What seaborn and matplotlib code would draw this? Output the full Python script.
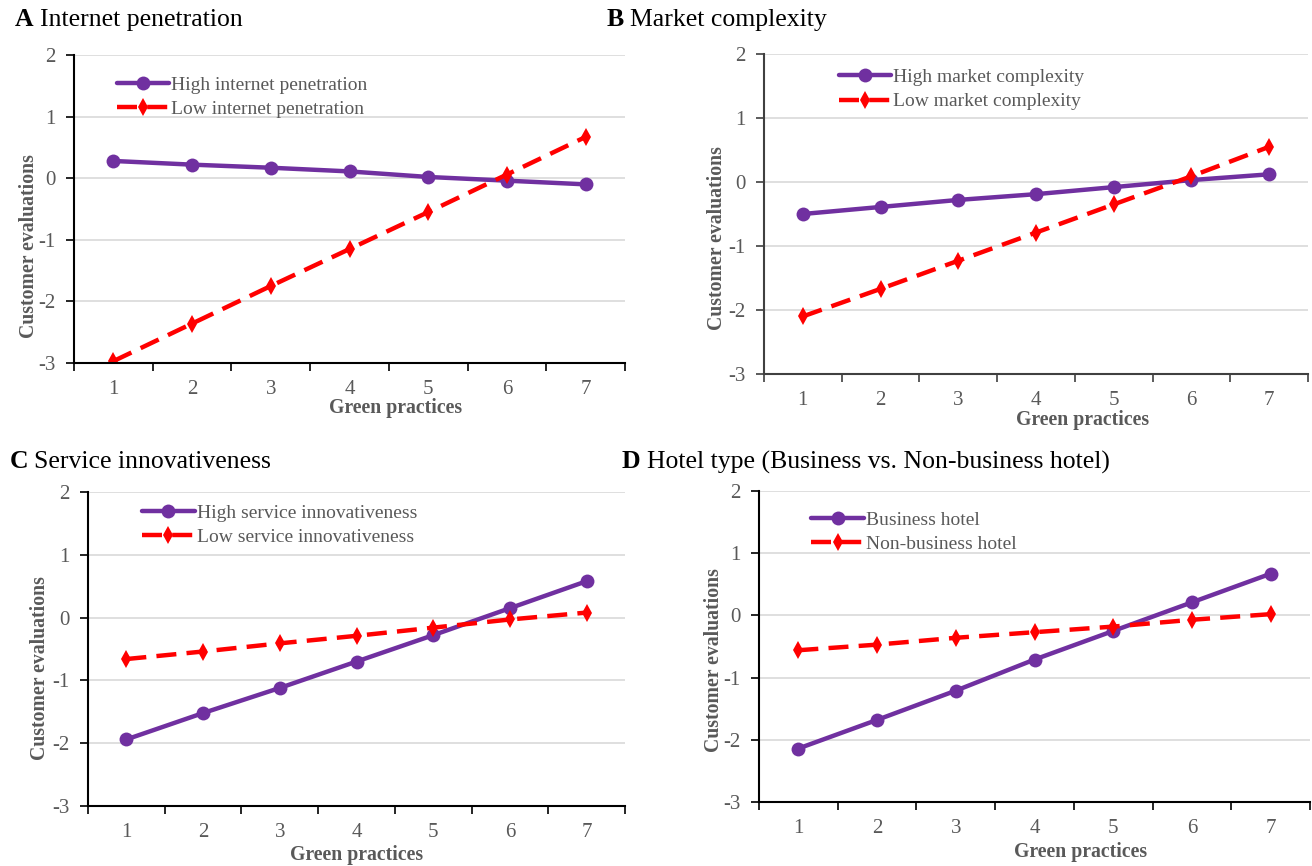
import numpy as np
import pandas as pd
import matplotlib
matplotlib.use("Agg")
import matplotlib.pyplot as plt
import seaborn as sns

# ── Data ─────────────────────────────────────────────────────────────────────

PRACTICES = [1, 2, 3, 4, 5, 6, 7]

A_HIGH = [0.28, 0.22, 0.17, 0.11, 0.02, -0.04, -0.10]
A_LOW = [-2.97, -2.36, -1.75, -1.15, -0.55, 0.06, 0.67]
B_HIGH = [-0.50, -0.39, -0.28, -0.19, -0.08, 0.03, 0.12]
B_LOW = [-2.10, -1.67, -1.23, -0.79, -0.35, 0.09, 0.55]
C_HIGH = [-1.94, -1.52, -1.12, -0.70, -0.28, 0.15, 0.58]
C_LOW = [-0.66, -0.54, -0.41, -0.29, -0.16, -0.03, 0.08]
D_HIGH = [-2.14, -1.68, -1.21, -0.71, -0.25, 0.21, 0.67]
D_LOW = [-0.56, -0.47, -0.36, -0.27, -0.18, -0.07, 0.02]

A_LABELS = ["High internet penetration", "Low internet penetration"]
B_LABELS = ["High market complexity", "Low market complexity"]
C_LABELS = ["High service innovativeness", "Low service innovativeness"]
D_LABELS = ["Business hotel", "Non-business hotel"]

TITLES = [("A", "Internet penetration"), ("B", "Market complexity"),
          ("C", "Service innovativeness"),
          ("D", "Hotel type (Business vs. Non-business hotel)")]

Y_TICKS = [-3, -2, -1, 0, 1, 2]

# ── Style ────────────────────────────────────────────────────────────────────

PURPLE = "#7030A0"
RED = "#FF0000"
GREY_TXT = "#595959"
FONT = "Liberation Serif"

sns.set_theme(style="white")
plt.rcParams["font.family"] = [FONT, "DejaVu Serif"]
plt.rcParams["axes.unicode_minus"] = False

W, H = 1312, 866

# pixel boxes: left, right, top(y=2), bottom(y=-3)
BOXES = [(74, 625, 55, 363), (764, 1308, 54, 374),
         (88, 625, 492, 806), (759, 1310, 491, 802)]
# legend anchor (axes fraction), ylabel x/y, xlabel x/y
LEG_POS = [(0.078, 0.932), (0.137, 0.955), (0.101, 0.962), (0.095, 0.936)]
YLAB = [(-0.064, 0.38), (-0.068, 0.425), (-0.071, 0.44), (-0.064, 0.455)]
XLAB = [(0.584, -0.115), (0.585, -0.113), (0.50, -0.125), (0.584, -0.13)]
SPINE_COL = ["black", "#404040", "black", "black"]
TITLE_POS = [(15, 20), (607, 20), (10, 462), (622, 462)]


def draw_panel(fig, i, high, low, labels):
    l, r, t, b = BOXES[i]
    ax = fig.add_axes([l / W, 1 - b / H, (r - l) / W, (b - t) / H])

    df = pd.DataFrame({"practice": PRACTICES * 2,
                       "value": high + low,
                       "group": [labels[0]] * 7 + [labels[1]] * 7})
    sns.lineplot(data=df[df["group"] == labels[0]], x="practice", y="value",
                 color=PURPLE, marker="o", markersize=10, linewidth=3.2,
                 markeredgewidth=0, label=labels[0], ax=ax)
    sns.lineplot(data=df[df["group"] == labels[1]], x="practice", y="value",
                 color=RED, marker="d", markersize=9, linewidth=3.2,
                 markeredgewidth=0, linestyle=(0, (4.5, 2.3)),
                 label=labels[1], ax=ax)

    ax.set_xlim(0.5, 7.5)
    ax.set_ylim(-3, 2)
    ax.set_yticks(Y_TICKS)
    ax.set_yticklabels([str(v) for v in Y_TICKS], fontsize=15, color=GREY_TXT)
    ax.set_xticks(np.arange(0.5, 8.0, 1.0))
    ax.set_xticklabels([])
    ax.set_xticks(PRACTICES, minor=True)
    ax.set_xticklabels([str(p) for p in PRACTICES], minor=True,
                       fontsize=15, color=GREY_TXT)
    ax.tick_params(axis="x", which="major", direction="out", length=6,
                   width=1.2, color=SPINE_COL[i], bottom=True)
    ax.tick_params(axis="x", which="minor", length=0, pad=12, bottom=True)
    ax.tick_params(axis="y", direction="out", length=6, width=1.2,
                   color=SPINE_COL[i], left=True, pad=7)

    ax.grid(axis="y", color="#d9d9d9", linewidth=1.2)
    ax.set_axisbelow(True)
    for side in ["top", "right"]:
        ax.spines[side].set_visible(False)
    for side in ["left", "bottom"]:
        ax.spines[side].set_color(SPINE_COL[i])
        ax.spines[side].set_linewidth(1.5)

    ax.set_ylabel("Customer evaluations", fontsize=14.2, fontweight="bold",
                  color=GREY_TXT)
    ax.yaxis.set_label_coords(*YLAB[i])
    ax.set_xlabel("Green practices", fontsize=14.2, fontweight="bold",
                  color=GREY_TXT, va="top")
    ax.xaxis.set_label_coords(*XLAB[i])

    ax.legend(loc="upper left", bbox_to_anchor=LEG_POS[i], frameon=False,
              fontsize=14, labelcolor=GREY_TXT, handlelength=2.7,
              handletextpad=0.1, labelspacing=0.35, borderpad=0,
              borderaxespad=0)
    return ax


def draw_title(fig, i):
    letter, text = TITLES[i]
    x, y = TITLE_POS[i]
    t1 = fig.text(x / W, 1 - y / H, letter, fontsize=18.5, fontweight="bold",
                  ha="left", va="center", color="black")
    ext = t1.get_window_extent(renderer=fig.canvas.get_renderer())
    fig.text((ext.x1 + 6) / W, 1 - y / H, text, fontsize=18.5,
             ha="left", va="center", color="black")


def main():
    fig = plt.figure(figsize=(W / 100, H / 100), dpi=100)
    fig.patch.set_facecolor("white")
    panels = [(A_HIGH, A_LOW, A_LABELS), (B_HIGH, B_LOW, B_LABELS),
              (C_HIGH, C_LOW, C_LABELS), (D_HIGH, D_LOW, D_LABELS)]
    for i, (high, low, labels) in enumerate(panels):
        draw_panel(fig, i, high, low, labels)
        draw_title(fig, i)
    fig.savefig("out.png", dpi=100, facecolor="white")
    plt.close(fig)


if __name__ == "__main__":
    main()
